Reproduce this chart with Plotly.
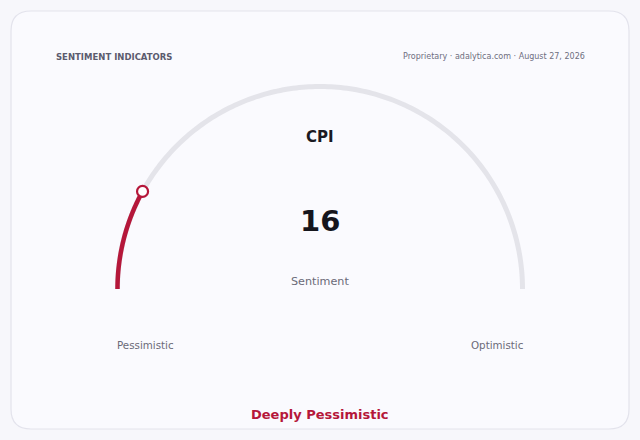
import numpy as np
import plotly.graph_objects as go

# gauge data
indicator = "CPI"
value = 16
vmin, vmax = 0, 100
axis_labels = ["Pessimistic", "Optimistic"]
reading = "Deeply Pessimistic"
subtitle = "Sentiment"
header_left = "SENTIMENT INDICATORS"
header_right = "Proprietary · adalytica.com · August 27, 2026"

RED = "#b5173a"
TRACK = "#e4e4ea"
W, H = 640, 440

# angles for the half dial: vmin at 180 deg, vmax at 0 deg
def to_theta(v):
    return 180 - (v - vmin) / (vmax - vmin) * 180

track_theta = np.linspace(to_theta(vmin), to_theta(vmax), 200)
val_theta = np.linspace(to_theta(vmin), to_theta(value), 60)

fig = go.Figure()
fig.add_trace(go.Scatterpolar(r=[1] * len(track_theta), theta=track_theta, mode="lines",
                              line=dict(color=TRACK, width=5), hoverinfo="skip"))
fig.add_trace(go.Scatterpolar(r=[1] * len(val_theta), theta=val_theta, mode="lines",
                              line=dict(color=RED, width=4.5), hoverinfo="skip"))
fig.add_trace(go.Scatterpolar(r=[1], theta=[to_theta(value)], mode="markers",
                              marker=dict(size=11, color="white", line=dict(color=RED, width=2.2)),
                              hoverinfo="skip"))

# dial geometry in pixels
cx, cy, R = 320, 289, 202.5
rmax = 1.08
Rp = R * rmax

def px(x):
    return x / W

def py(y):
    return 1 - y / H

fig.update_layout(
    width=W, height=H,
    margin=dict(l=0, r=0, t=0, b=0),
    paper_bgcolor="#f7f7fb",
    showlegend=False,
    polar=dict(
        domain=dict(x=[px(cx - Rp), px(cx + Rp)], y=[py(cy), py(cy - Rp)]),
        sector=[0, 180],
        bgcolor="rgba(0,0,0,0)",
        radialaxis=dict(visible=False, range=[0, rmax]),
        angularaxis=dict(visible=False),
    ),
    font=dict(family="DejaVu Sans"),
)

# card
x0, y0, x1, y1 = px(11), py(429), px(629), py(11)
rx, ry = 20 / W, 20 / H
card = (f"M {x0+rx},{y0} L {x1-rx},{y0} Q {x1},{y0} {x1},{y0+ry} "
        f"L {x1},{y1-ry} Q {x1},{y1} {x1-rx},{y1} L {x0+rx},{y1} "
        f"Q {x0},{y1} {x0},{y1-ry} L {x0},{y0+ry} Q {x0},{y0} {x0+rx},{y0} Z")
fig.add_shape(type="path", path=card, xref="paper", yref="paper",
              fillcolor="#fafafe", line=dict(color="#e3e3ec", width=1.2), layer="below")

def label(text, x, y, size, color, bold=False, anchor="center"):
    fig.add_annotation(text=f"<b>{text}</b>" if bold else text,
                       x=px(x), y=py(y), xref="paper", yref="paper",
                       xanchor=anchor, yanchor="middle", showarrow=False,
                       font=dict(size=size, color=color, family="DejaVu Sans"))

label(header_left, 54, 57, 8.5, "#5b5b6e", bold=True, anchor="left")
label(header_right, 587, 57, 8, "#6e6e7e", anchor="right")
label(indicator, 320, 137, 15, "#1a1a22", bold=True)
label(str(value), 320, 221, 29, "#15151c", bold=True)
label(subtitle, 320, 281, 11.2, "#6a6a78")
label(axis_labels[0], 145, 345, 10.3, "#6a6a78")
label(axis_labels[1], 497, 345, 10.3, "#6a6a78")
label(reading, 320, 414, 13, RED, bold=True)

# drop the default page margin so the figure fills the window
fig.write_html("out.html", config={"displayModeBar": False},
               post_script="document.body.style.margin='0';document.body.style.overflow='hidden';")
